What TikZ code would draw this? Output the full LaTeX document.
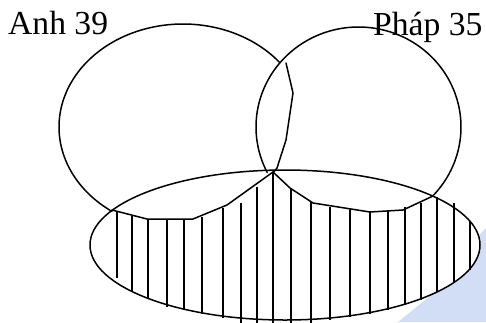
\documentclass[tikz,border=0pt]{standalone}
\usepackage{fontspec}
\setmainfont{Liberation Serif}
\definecolor{wmblue}{RGB}{210,222,246}
\tikzset{
  outline/.style={line width=1.5pt, line join=round, line cap=round},
  hatch/.style={line width=1.4pt},
  setlabel/.style={anchor=base west, inner sep=0pt, font=\fontsize{33.6}{40}\selectfont},
}
\begin{document}
\begin{tikzpicture}[x=1pt,y=-1pt]
\useasboundingbox (0,0) rectangle (486,322);
\clip (0,0) rectangle (486,322);
% watermark shape
\fill[wmblue] (486,228) -- (486,322) -- (398,322) -- (440,288) -- (470,252) -- (480,234) -- cycle;
% bottom set (white filled)
\filldraw[outline, fill=white] (285,245) ellipse [x radius=195, y radius=75];
% labels
\node[setlabel] (anh) at (8,34.5) {Anh 39};
\node[setlabel] (phap) at (373,35) {Pháp 35};
% left set (Anh)
\draw[outline] plot[domain=125:321, samples=120, smooth] ({183+124*cos(\x)}, {127+103*sin(\x)});
% right set (Phap)
\draw[outline] plot[domain=153:403, samples=120, smooth] ({358.5+102.5*cos(\x)}, {127+100*sin(\x)});
% jagged right edge of left set
\draw[outline] (286,63) -- (293,93) -- (286,140) -- (277,168) -- (273,173);
% boundary polylines of hatched region
\draw[outline] (112,210) -- (147,219) -- (193,219) -- (227,205) -- (273,172);
\draw[outline] (273,172) -- (290,188) -- (313,203) -- (370,212) -- (403,210) -- (433,196);
% hatching
\foreach \hx/\ht/\hb in {117/211/278, 132/216/292, 148/219/298, 167/219/307, 184/219/310,
  202/217/314, 223/208/318, 241/203/323, 257/187/323, 273/173/323, 291/188/323,
  311/202/323, 330/207/320, 350/209/317, 370/212/314, 388/210/310, 405/207/305,
  421/203/300, 437/197/292, 454/203/282, 470/222/270}
  \draw[hatch] (\hx,\ht) -- (\hx,\hb);
\end{tikzpicture}
\end{document}
